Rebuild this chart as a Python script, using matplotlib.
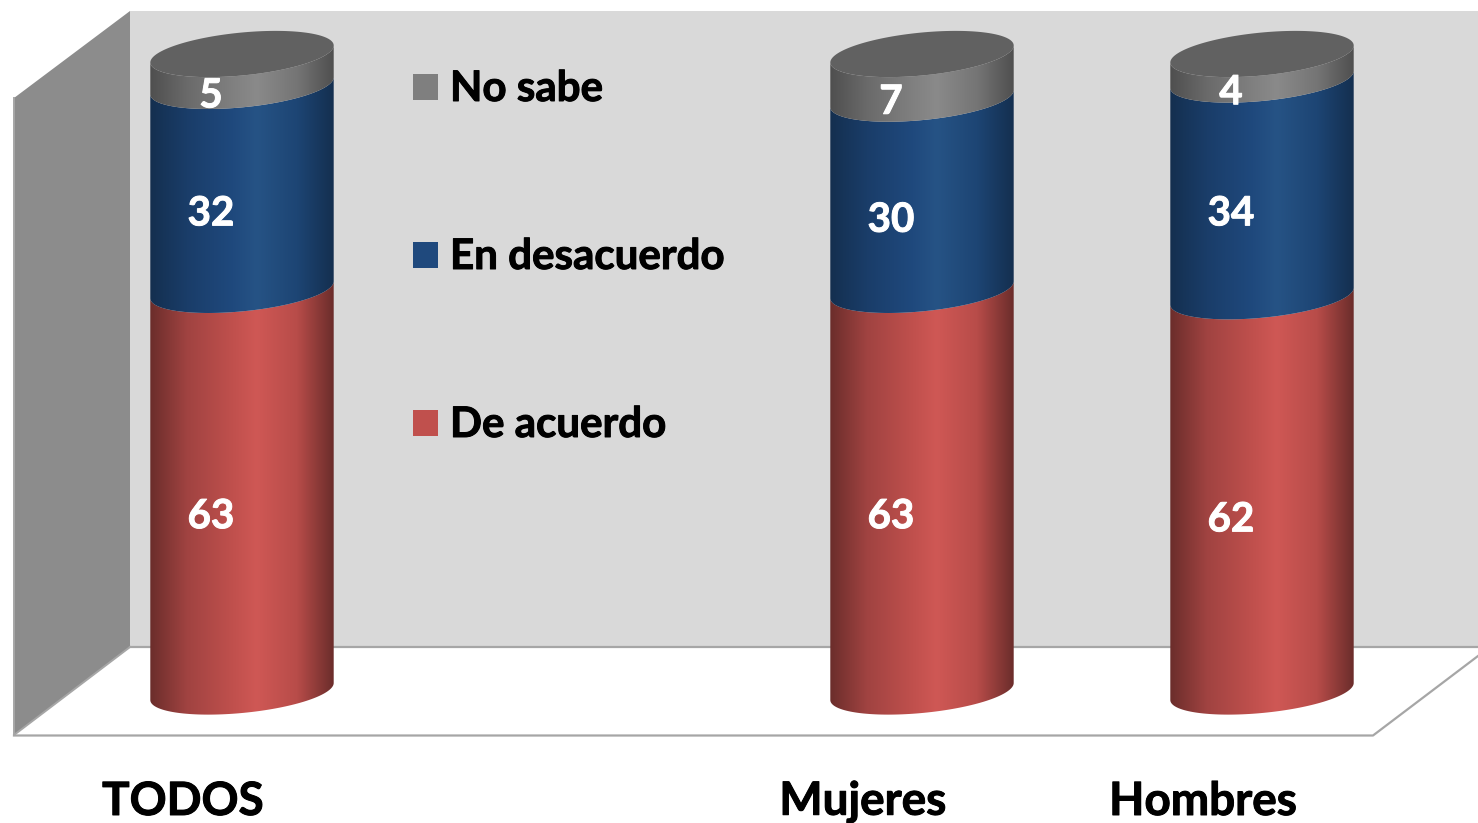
import numpy as np
import matplotlib
matplotlib.use('Agg')
import matplotlib.pyplot as plt
import matplotlib.patheffects as pe
from matplotlib.colors import LinearSegmentedColormap
from matplotlib.patches import Polygon, Rectangle

#Values
groups = ['TODOS', 'Mujeres', 'Hombres']
de_acuerdo = [63, 63, 62]
en_desacuerdo = [32, 30, 34]
no_sabe = [5, 7, 4]
legend_names = ['No sabe', 'En desacuerdo', 'De acuerdo']

W, H = 1478, 823
bar_centres = [242, 922, 1262]
half_width = 91.7
base_y = 691.5
px_per_unit = 6.375
ell_b = 21.5
ell_tilt = -8.5

plt.rcParams['font.family'] = ['Lato', 'DejaVu Sans']

fig = plt.figure(figsize=(W / 100, H / 100), dpi=100)
ax = fig.add_axes([0, 0, 1, 1])
ax.axis('off')

#Walls and floor
line_col = '#a6a6a6'
ax.add_patch(Polygon([(130, 11), (1478, 11), (1478, 647), (130, 647)], fc='#d9d9d9', ec='none'))
ax.add_patch(Polygon([(14, 98), (130, 11), (130, 647), (14, 735)], fc='#8c8c8c', ec='none'))
ax.plot([130, 1478], [647, 647], color=line_col, lw=1.6)
ax.plot([14, 14, 130], [98, 735, 647], color=line_col, lw=1.4)
ax.plot([14, 1373, 1478], [735.5, 735.5, 656], color=line_col, lw=1.6)


def shade(dark, mid_dark, mid, light, mid2):
    stops = [(0, dark), (0.2, mid_dark), (0.45, mid), (0.58, light), (0.8, mid2), (1, dark)]
    return LinearSegmentedColormap.from_list('s', stops)


red = shade('#6b2d2b', '#a04341', '#c0504d', '#cf5855', '#b84c49')
blue = shade('#142f4f', '#1a3d69', '#1f497d', '#265385', '#1d4574')
grey = shade('#4f4f4f', '#6a6a6a', '#808080', '#8a8a8a', '#757575')
gradient = np.linspace(0, 1, 256).reshape(1, -1)

#Slight stroke so Lato comes closer to the heavier look of the original font
heavy_black = [pe.withStroke(linewidth=0.7, foreground='black')]
heavy_white = [pe.withStroke(linewidth=0.7, foreground='white')]


def front_edge(cx, cy):
    t = np.linspace(0, np.pi, 80)
    return cx + half_width * np.cos(t), cy + ell_b * np.sin(t) + ell_tilt * np.cos(t)


def draw_segment(cx, y0, y1, cmap):
    x_low, y_low = front_edge(cx, y0)
    x_up, y_up = front_edge(cx, y1)
    pts = np.vstack([np.column_stack([x_low, y_low]), np.column_stack([x_up[::-1], y_up[::-1]])])
    clip = Polygon(pts, transform=ax.transData, fc='none', ec='none')
    ax.add_patch(clip)
    im = ax.imshow(gradient, cmap=cmap, aspect='auto', interpolation='bilinear',
                   extent=[cx - half_width, cx + half_width, y0 + 40, y1 - 40], zorder=3)
    im.set_clip_path(clip)


for i, name in enumerate(groups):
    cx = bar_centres[i]
    bottom = 0
    for val, cmap in zip([de_acuerdo[i], en_desacuerdo[i], no_sabe[i]], [red, blue, grey]):
        y0 = base_y - bottom * px_per_unit
        y1 = base_y - (bottom + val) * px_per_unit
        draw_segment(cx, y0, y1, cmap)
        ax.text(cx - 31, (y0 + y1) / 2 + 26, str(val), color='white', fontsize=29, fontweight='bold',
                ha='center', va='center', zorder=6, path_effects=heavy_white)
        bottom += val
    #Top cap of the cylinder
    t = np.linspace(0, 2 * np.pi, 160)
    top_y = base_y - bottom * px_per_unit
    cap = np.column_stack([cx + half_width * np.cos(t), top_y + ell_b * np.sin(t) + ell_tilt * np.cos(t)])
    ax.add_patch(Polygon(cap, fc='#616161', ec='none', zorder=5))
    ax.text(cx - 59, 802, name, color='black', fontsize=33, fontweight='bold', ha='center', va='center',
            path_effects=heavy_black)

#Legend
legend_cols = ['#7f7f7f', '#1f497d', '#c0504d']
legend_ys = [87, 255, 423]
for name, col, y in zip(legend_names, legend_cols, legend_ys):
    ax.add_patch(Rectangle((413, y - 13), 25, 26, fc=col, ec='none', zorder=4))
    ax.text(450, y + 2, name, color='black', fontsize=30.3, fontweight='bold', ha='left', va='center',
            zorder=4, path_effects=heavy_black)

ax.set_xlim(0, W)
ax.set_ylim(H, 0)
fig.savefig('out.png', dpi=100)
